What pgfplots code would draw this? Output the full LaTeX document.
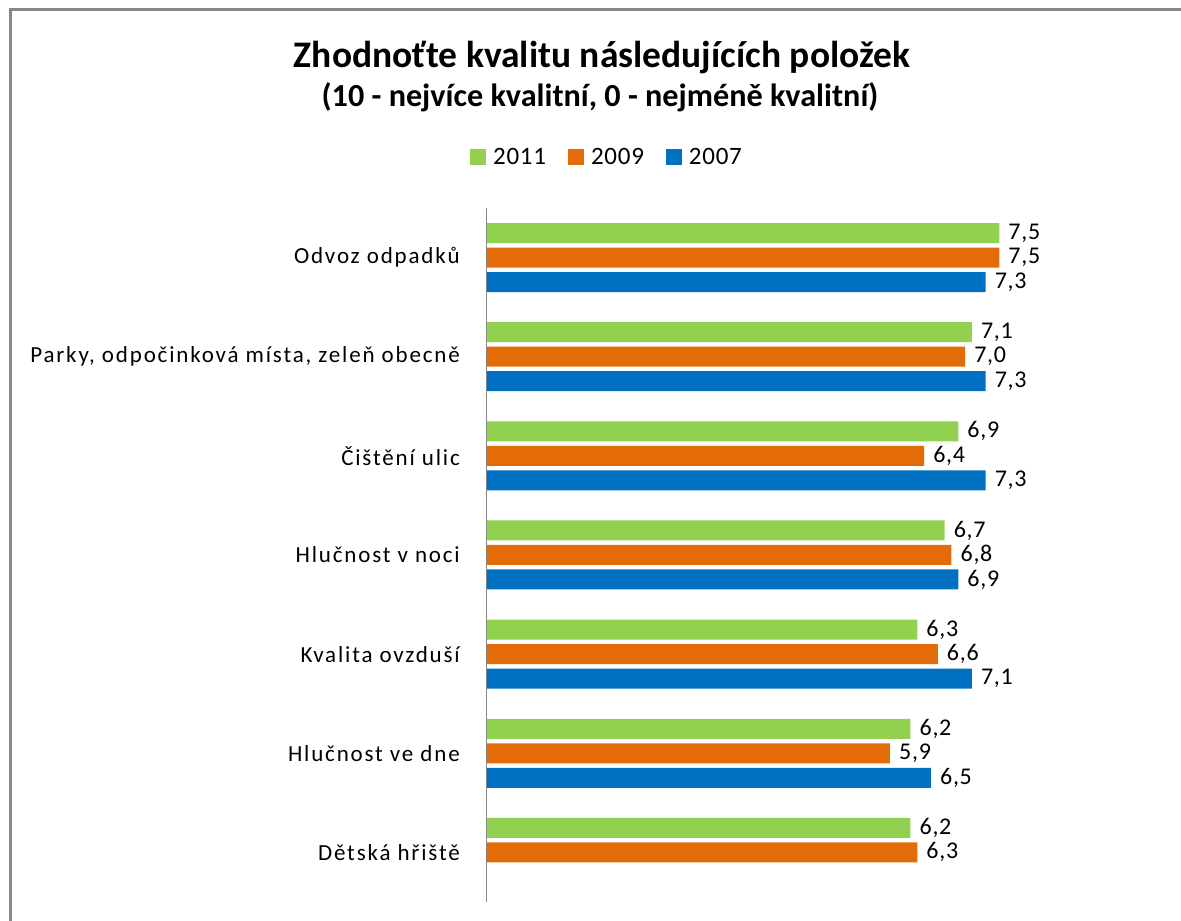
\documentclass[border=0pt]{standalone}
\usepackage{fontspec}
\setmainfont{Carlito}
\newfontfamily\catfont[LetterSpace=8]{Carlito}
\newfontfamily\numfont[LetterSpace=3]{Carlito}
\usepackage{pgfplots}
\pgfplotsset{compat=1.18}
\definecolor{cgreen}{HTML}{92D050}
\definecolor{corange}{HTML}{E36C09}
\definecolor{cblue}{HTML}{0070C0}
\definecolor{frame}{HTML}{878787}
\begin{document}
\begin{tikzpicture}[x=1pt,y=1pt]
\draw[frame, line width=2.7pt] (10.3,-200) -- (10.3,911.3) -- (1400,911.3);
\node[font=\bfseries\fontsize{37.5}{44}\selectfont, anchor=base] at (602,853) {Zhodnoťte kvalitu následujících položek};
\node[font=\bfseries\fontsize{32.2}{37}\selectfont, anchor=base] at (600,814) {(10 - nejvíce kvalitní, 0 - nejméně kvalitní)};
\begin{axis}[
  at={(487pt,19pt)}, anchor=south west, scale only axis,
  width=683pt, height=694pt,
  xmin=0, xmax=10, ymin=-0.5, ymax=6.5,
  xbar, bar width=20pt,
  axis x line=none, axis y line*=left,
  y axis line style={frame, line width=1pt, -},
  ytick={0,...,6}, major tick length=0pt,
  yticklabels={Dětská hřiště, Hlučnost ve dne, Kvalita ovzduší, Hlučnost v noci, Čištění ulic, {Parky, odpočinková místa, zeleň obecně}, Odvoz odpadků},
  yticklabel style={font=\catfont\fontsize{23}{27}\selectfont, inner sep=0pt, anchor=east, xshift=-27pt},
  clip=false,
  /pgf/number format/assume math mode=true,
  nodes near coords,
  nodes near coords style={font=\numfont\fontsize{24}{28}\selectfont, anchor=west, inner sep=0pt, xshift=9pt,
    /pgf/number format/.cd, fixed, fixed zerofill, precision=1, use comma},
  legend columns=3,
  legend style={at={(0.1757,1.0735)}, anchor=center, draw=none, fill=none,
    font=\numfont\fontsize{25}{29}\selectfont,
    /tikz/every odd column/.append style={column sep=5pt},
    /tikz/every even column/.append style={column sep=20pt}},
  legend image code/.code={\fill[#1] (0pt,-8pt) rectangle (16pt,8pt);},
]
\addplot[fill=cgreen, draw=none, bar shift=24.5pt] coordinates {(7.5,6) (7.1,5) (6.9,4) (6.7,3) (6.3,2) (6.2,1) (6.2,0)};
\addplot[fill=corange, draw=none, bar shift=0pt] coordinates {(7.5,6) (7.0,5) (6.4,4) (6.8,3) (6.6,2) (5.9,1) (6.3,0)};
\addplot[fill=cblue, draw=none, bar shift=-24.5pt] coordinates {(7.3,6) (7.3,5) (7.3,4) (6.9,3) (7.1,2) (6.5,1)};
\legend{2011, 2009, 2007}
\end{axis}
\pgfresetboundingbox
\useasboundingbox (0,0) rectangle (1181,921);
\end{tikzpicture}
\end{document}
